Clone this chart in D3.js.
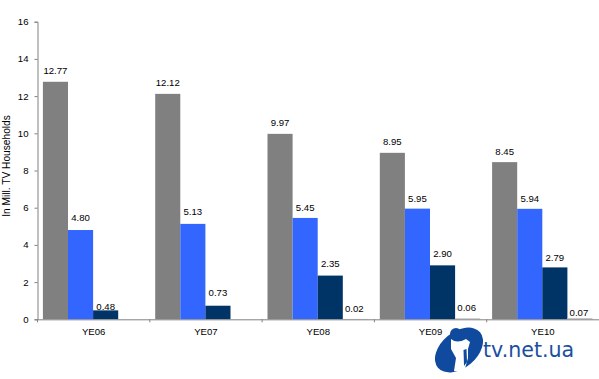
<!DOCTYPE html>
<html><head><meta charset="utf-8">
<script src="https://cdn.jsdelivr.net/npm/d3@7"></script>
<style>
html,body{margin:0;padding:0;background:#fff}
svg{display:block}
text{font-family:"Liberation Sans",Arial,sans-serif;fill:#000}
</style></head><body><svg id="c" width="599" height="379"></svg>
<script>
const categories = ["YE06","YE07","YE08","YE09","YE10"];
const seriesGray = [12.77,12.12,9.97,8.95,8.45];
const seriesBlue = [4.80,5.13,5.45,5.95,5.94];
const seriesNavy = [0.48,0.73,2.35,2.90,2.79];
const seriesFourth = [0.02,0.06,0.07];
const seriesFourthCats = ["YE08","YE09","YE10"];
const yTicks = [0,2,4,6,8,10,12,14,16];
const grayLabelGaps = [11,11.6,11.3,11.5,11];
const blueLabelGaps = [12,12.7,10,9.8,10];
const navyLabelGaps = [3.4,13.6,12,12,9.7];
const fourthLabelGaps = [10.6,10.7,5];

const svg = d3.select("#c");
const x = d3.scaleBand().domain(categories).range([37.5,599]);
const y = d3.scaleLinear().domain([0,16]).range([319.3,21.7]);
const barW = 25.1, barOff = 5.4, fs = 9.6;
const colors = ["#808080","#3366ff","#003366"];
const all = [
 {v:seriesGray,g:grayLabelGaps,i:0},
 {v:seriesBlue,g:blueLabelGaps,i:1},
 {v:seriesNavy,g:navyLabelGaps,i:2}];
const fmt = d3.format(".2f");
all.forEach(s=>{
  svg.append("g").selectAll("rect").data(s.v).join("rect")
    .attr("x",(d,j)=>x(categories[j])+barOff+s.i*barW)
    .attr("y",d=>y(d)).attr("width",barW).attr("height",d=>y(0)-y(d))
    .attr("fill",colors[s.i]);
});
svg.append("g").selectAll("rect").data(seriesFourth).join("rect")
  .attr("x",(d,j)=>x(seriesFourthCats[j])+barOff+3*barW)
  .attr("y",d=>y(d)).attr("width",barW)
  .attr("height",d=>y(0)-y(d)).attr("fill","#c8c8c8");
const yAxis = d3.axisLeft(y).tickValues(yTicks).tickSize(3).tickPadding(6);
const xAxis = d3.axisBottom(x).tickSize(0).tickPadding(9);
const gy = svg.append("g").attr("transform","translate(37.5,0)").call(yAxis);
const gx = svg.append("g").attr("transform","translate(0,319.3)").call(xAxis);
[gy,gx].forEach(g=>{
  g.selectAll(".domain").attr("stroke","#808080");
  g.selectAll("line").attr("stroke","#808080");
  g.selectAll("text").attr("font-size",fs).attr("font-family","Liberation Sans").attr("fill","#000");
});
gx.append("g").selectAll("line").data(categories).join("line")
  .attr("x1",d=>x(d)).attr("x2",d=>x(d)).attr("y1",0).attr("y2",3).attr("stroke","#808080");
svg.append("text").attr("transform","translate(9.5,166) rotate(-90)")
  .attr("text-anchor","middle").attr("font-size",10.2).text("In Mill. TV Households");
all.forEach(s=>{
  svg.append("g").selectAll("text").data(s.v).join("text")
    .attr("x",(d,j)=>x(categories[j])+barOff+(s.i+0.5)*barW)
    .attr("y",(d,j)=>y(d)-s.g[j]+3.4)
    .attr("text-anchor","middle").attr("font-size",fs).text(d=>fmt(d));
});
svg.append("g").selectAll("text").data(seriesFourth).join("text")
  .attr("x",(d,j)=>x(seriesFourthCats[j])+barOff+3.5*barW-1)
  .attr("y",(d,j)=>y(d)-fourthLabelGaps[j]+3.4)
  .attr("text-anchor","middle").attr("font-size",fs).text(d=>fmt(d));

// watermark
const logoBlue = "#0f4a9e";
const logo = svg.append("g");
logo.append("ellipse").attr("cx",459).attr("cy",350).attr("rx",27.5).attr("ry",18)
  .attr("transform","rotate(-40 459 350)").attr("fill",logoBlue);
logo.append("path").attr("d","M451 339 Q457 344 466 339 L470 342 L468 349 L468 358 L464 372 L454 371 L456 358 L451 349 Z").attr("fill","#fff");
logo.append("path").attr("d","M463.5 350 L466.5 349 L467 362 L464 366 Z").attr("fill",logoBlue);
logo.append("circle").attr("cx",456).attr("cy",334).attr("r",6).attr("fill",logoBlue);
svg.append("text").attr("x",483).attr("y",357).attr("font-size",20.6)
  .style("font-family","DejaVu Sans").style("fill","#1a4f9f").text("tv.net.ua");
</script></body></html>
